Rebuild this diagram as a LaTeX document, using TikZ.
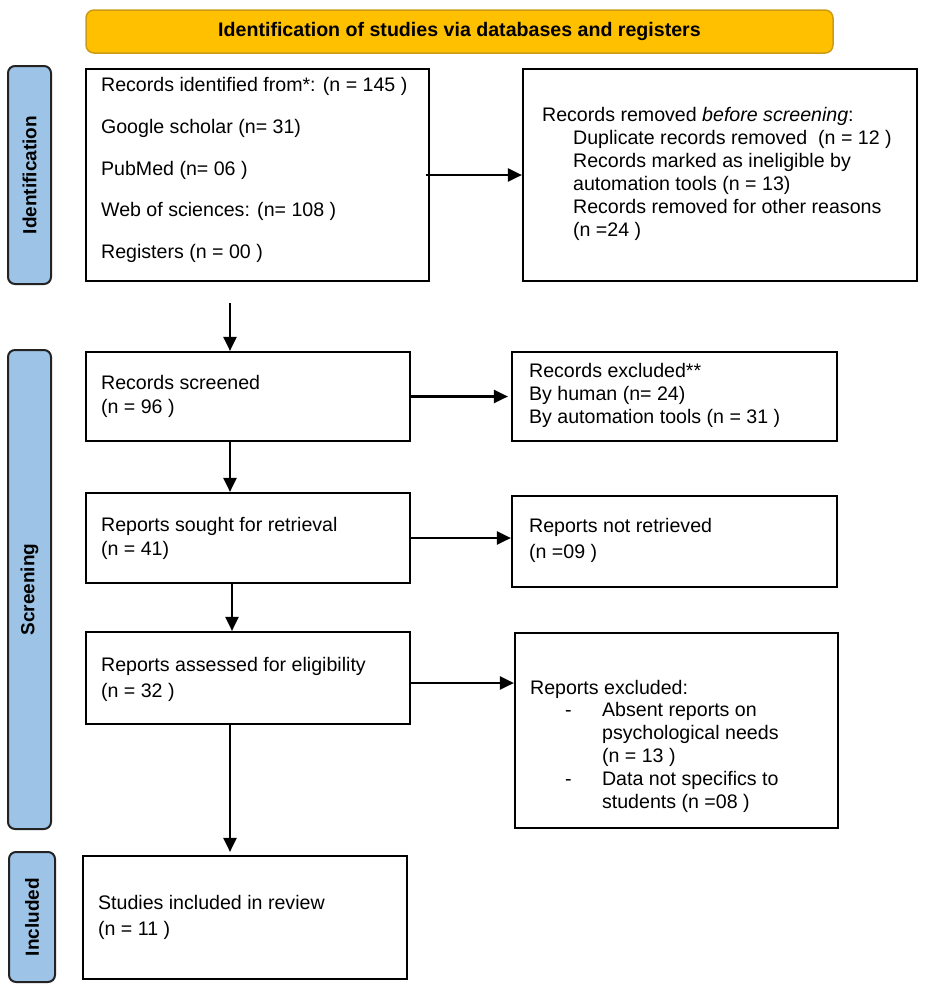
\documentclass[tikz,border=0pt]{standalone}
\usepackage{fontspec}
\setmainfont{Liberation Sans}
\usetikzlibrary{arrows.meta}
\definecolor{hdrfill}{RGB}{255,192,0}
\definecolor{hdrline}{RGB}{205,155,20}
\definecolor{sidefill}{RGB}{157,195,230}
\definecolor{sideline}{RGB}{35,35,35}
\begin{document}
\begin{tikzpicture}[x=1pt,y=-1pt,
  box/.style={draw=black, line width=2.2pt, fill=white, inner sep=0pt},
  side/.style={draw=sideline, line width=2pt, fill=sidefill, rounded corners=7pt, inner sep=0pt},
  sidetxt/.style={rotate=90, font=\fontsize{19}{23}\selectfont\bfseries, inner sep=0pt},
  txt/.style={anchor=west, align=left, inner sep=0pt, font=\fontsize{19.6}{23}\selectfont},
  arr/.style={line width=2.2pt, -{Triangle[length=14pt,width=13pt]}}]
\useasboundingbox (0,0) rectangle (926,989);

% header
\node[draw=hdrline, line width=1.5pt, fill=hdrfill, rounded corners=8pt,
      minimum width=747pt, minimum height=43pt, inner sep=0pt,
      font=\fontsize{19.6}{23}\selectfont\bfseries] (hdr) at (459.5,31.5)
      {Identification of studies via databases and registers};

% side labels
\node[side, minimum width=43pt, minimum height=218pt] (sid) at (29.5,175) {};
\node[sidetxt] (sidt) at (sid.center) {Identification};
\node[side, minimum width=43pt, minimum height=479pt] (sscr) at (29.5,589.5) {};
\node[sidetxt] (sscrt) at (sscr.center) {Screening};
\node[side, minimum width=46pt, minimum height=130pt] (sinc) at (32,917) {};
\node[sidetxt] (sinct) at (sinc.center) {Included};

% boxes
\node[box, minimum width=343pt, minimum height=212pt] (box1) at (257.5,175) {};
\node[txt, font=\fontsize{19.6}{41.75}\selectfont] (box1t) at ([xshift=16pt,yshift=5pt]box1.west)
 {Records identified from*: (n = 145 )\\Google scholar (n= 31)\\PubMed (n= 06 )\\Web of sciences: (n= 108 )\\Registers (n = 00 )};

\node[box, minimum width=394pt, minimum height=212pt] (rem) at (720,175) {};
\node[txt] (remt) at ([xshift=20pt,yshift=1pt]rem.west)
 {Records removed \textit{before screening}:\\
  \hspace*{31pt}Duplicate records removed\ \ (n = 12 )\\
  \hspace*{31pt}Records marked as ineligible by\\
  \hspace*{31pt}automation tools (n = 13)\\
  \hspace*{31pt}Records removed for other reasons\\
  \hspace*{31pt}(n =24 )};

\node[box, minimum width=324pt, minimum height=89pt] (scr) at (248,396.5) {};
\node[txt, font=\fontsize{19.6}{24}\selectfont] (scrt) at ([xshift=16pt]scr.west)
 {Records screened\\(n = 96 )};

\node[box, minimum width=325pt, minimum height=89pt] (exc) at (674.5,396.5) {};
\node[txt] (exct) at ([xshift=18pt,yshift=1pt]exc.west)
 {Records excluded**\\By human (n= 24)\\By automation tools (n = 31 )};

\node[box, minimum width=324pt, minimum height=90pt] (sou) at (248,538) {};
\node[txt, font=\fontsize{19.6}{24}\selectfont] (sout) at ([xshift=16pt]sou.west)
 {Reports sought for retrieval\\(n = 41)};

\node[box, minimum width=325pt, minimum height=91pt] (nrt) at (674.5,541.5) {};
\node[txt, font=\fontsize{19.6}{26}\selectfont] (nrtt) at ([xshift=18pt,yshift=1pt]nrt.west)
 {Reports not retrieved\\(n =09 )};

\node[box, minimum width=324pt, minimum height=92pt] (ass) at (248,678) {};
\node[txt, font=\fontsize{19.6}{26}\selectfont] (asst) at ([xshift=16pt,yshift=-1pt]ass.west)
 {Reports assessed for eligibility\\(n = 32 )};

\node[box, minimum width=323pt, minimum height=195pt] (rex) at (676.5,730.5) {};
\node[txt, font=\fontsize{19.6}{22.8}\selectfont] (rext) at ([xshift=16pt,yshift=-15.5pt]rex.west)
 {Reports excluded:\\
  \makebox[72pt][l]{\hspace*{35pt}-}Absent reports on\\
  \hspace*{72pt}psychological needs\\
  \hspace*{72pt}(n = 13 )\\
  \makebox[72pt][l]{\hspace*{35pt}-}Data not specifics to\\
  \hspace*{72pt}students (n =08 )};

\node[box, minimum width=324pt, minimum height=123pt] (inc) at (245,917.5) {};
\node[txt, font=\fontsize{19.6}{26}\selectfont] (inct) at ([xshift=16pt]inc.west)
 {Studies included in review\\(n = 11 )};

% connectors
\coordinate (c1) at (230,303);
\draw[arr] ([xshift=-4pt]box1.east) -- (rem.west);
\draw[arr] (c1) -- (c1 |- scr.north);
\draw[arr] (scr.south -| c1) -- (sou.north -| c1);
\draw[arr] ([xshift=2pt]sou.south -| c1) -- ([xshift=2pt]ass.north -| c1);
\draw[arr] (ass.south -| c1) -- ([yshift=3pt]inc.north -| c1);
\draw[arr] (scr.east) -- ([xshift=-3pt]exc.west);
\draw[arr] (sou.east) -- (sou.east -| nrt.west);
\draw[arr] ([yshift=-5pt]ass.east) -- ([yshift=-5pt]ass.east -| rex.west);
\end{tikzpicture}
\end{document}
